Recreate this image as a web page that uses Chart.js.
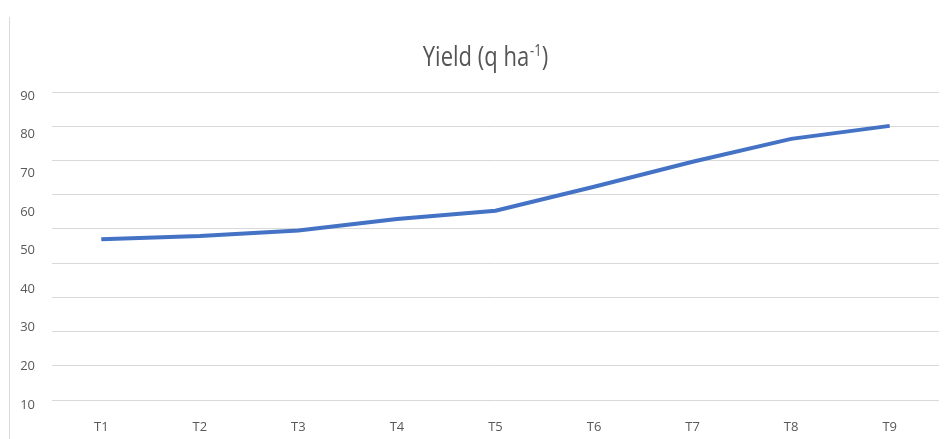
<!DOCTYPE html>
<html>
<head>
<meta charset="utf-8">
<script src="https://cdn.jsdelivr.net/npm/chart.js@4/dist/chart.umd.min.js"></script>
<style>
  html, body { margin: 0; padding: 0; background: #ffffff; }
  #wrap { position: relative; width: 944px; height: 439px; }
</style>
</head>
<body>
<div id="wrap"><canvas id="yieldChart"></canvas></div>
<script>
const treatments = ["T1", "T2", "T3", "T4", "T5", "T6", "T7", "T8", "T9"];
const yieldValues = [47.0, 47.9, 49.5, 52.9, 55.3, 62.3, 69.6, 76.3, 80.1];
const yTickLabels = [10, 20, 30, 40, 50, 60, 70, 80, 90];

const textColor = "#595959";
const gridColor = "#d9d9d9";

// title with a real superscript, drawn on the canvas
const titlePlugin = {
  id: "yieldTitle",
  afterDraw(chart) {
    const c = chart.ctx;
    c.save();
    // thin frame line on the left like the original
    c.strokeStyle = gridColor;
    c.lineWidth = 1;
    c.beginPath();
    c.moveTo(9.5, 17);
    c.lineTo(9.5, 439);
    c.stroke();

    const main = "Yield (q ha";
    const sup = "-1";
    const close = ")";
    const bigFont = "22px 'Open Sans'";
    const smallFont = "13px 'Open Sans'";
    c.font = bigFont;
    const w1 = c.measureText(main).width;
    const w3 = c.measureText(close).width;
    c.font = smallFont;
    const w2 = c.measureText(sup).width;
    const total = w1 + w2 + w3;

    c.translate(485 - total / 2, 66);
    c.scale(1, 1.2);
    c.fillStyle = "#555555";
    c.textBaseline = "alphabetic";
    c.font = bigFont;
    c.fillText(main, 0, 0);
    c.font = smallFont;
    c.fillText(sup, w1 + 1, -8);
    c.font = bigFont;
    c.fillText(close, w1 + w2 + 1, 0);
    c.restore();
  },
};

new Chart(document.getElementById("yieldChart"), {
  type: "line",
  data: {
    labels: treatments,
    datasets: [
      {
        label: "Yield (q ha-1)",
        data: yieldValues,
        yAxisID: "y",
        borderColor: "#4472C4",
        backgroundColor: "#4472C4",
        borderWidth: 4,
        pointRadius: 0,
        tension: 0,
        fill: false,
      },
    ],
  },
  options: {
    responsive: true,
    maintainAspectRatio: false,
    animation: false,
    layout: { padding: { top: 92, right: 5, left: 0, bottom: 0 } },
    plugins: {
      legend: { display: false },
      tooltip: { enabled: false },
      title: { display: false },
    },
    scales: {
      x: {
        offset: true,
        grid: { display: false, drawTicks: false },
        border: { display: false },
        ticks: {
          color: textColor,
          font: { family: "'Open Sans'", size: 13 },
          padding: 19,
        },
        afterFit(scale) {
          scale.height = 39;
        },
      },
      // gridlines, 0 to 90
      y: {
        position: "left",
        min: 0,
        max: 90,
        ticks: { display: false, stepSize: 10 },
        grid: { color: gridColor, drawTicks: false, lineWidth: 1 },
        border: { display: false },
        afterFit(scale) {
          scale.width = 0;
        },
      },
      // the tick labels sit a little off the gridlines in the picture
      yLabels: {
        position: "left",
        min: 11.3,
        max: 91.04,
        grid: { display: false, drawTicks: false },
        border: { display: false },
        afterBuildTicks(scale) {
          scale.ticks = yTickLabels.map((v) => ({ value: v }));
        },
        ticks: {
          color: textColor,
          font: { family: "'Open Sans'", size: 13 },
          padding: 17,
        },
        afterFit(scale) {
          scale.width = 52;
        },
      },
    },
  },
  plugins: [titlePlugin],
});
</script>
</body>
</html>
